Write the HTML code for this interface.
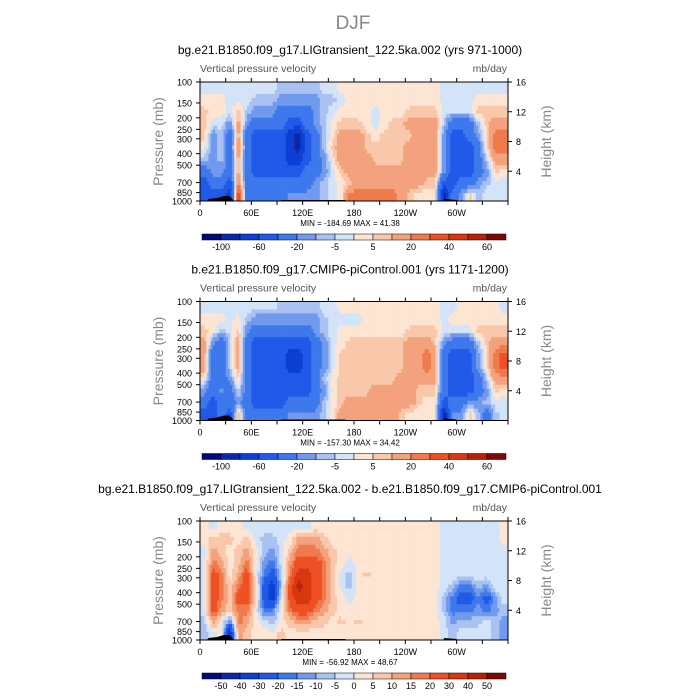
<!DOCTYPE html>
<html><head><meta charset="utf-8"><style>
body{margin:0;background:#fff;width:700px;height:700px;overflow:hidden}
svg{display:block;font-family:"Liberation Sans",sans-serif}
</style></head><body>
<svg id="s" width="700" height="700" viewBox="0 0 700 700">
<text x="353" y="29" font-size="19" fill="#888" text-anchor="middle">DJF</text>
</svg>
<script>
// ---- data ----
const lonCenters = [5,15,25,35,45,55,65,75,85,95,105,115,125,135,145,155,165,175,185,195,205,215,225,235,245,255,265,275,285,295,305,315,325,335,345,355];
const pressureTicks = [100,150,200,250,300,400,500,700,850,1000];
const heightTicks = [16,12,8,4];
const lonTickLabels = ["0","60E","120E","180","120W","60W"];
const levelsAbs = [-100,-80,-60,-40,-20,-10,-5,0,5,10,20,30,40,50,60];
const levelsAbsLabels = ["-100","-60","-20","-5","5","20","40","60"];
const levelsDiff = [-50,-40,-30,-20,-15,-10,-5,0,5,10,15,20,30,40,50];
const levelsDiffLabels = ["-50","-40","-30","-20","-15","-10","-5","0","5","10","15","20","30","40","50"];
const titles = ["bg.e21.B1850.f09_g17.LIGtransient_122.5ka.002 (yrs 971-1000)","b.e21.B1850.f09_g17.CMIP6-piControl.001 (yrs 1171-1200)","bg.e21.B1850.f09_g17.LIGtransient_122.5ka.002 - b.e21.B1850.f09_g17.CMIP6-piControl.001"];
const minMax = [["-184.69","41.38"],["-157.30","34.42"],["-56.92","48.67"]];
const lig = [
[-2,-2,-2,-2,-2,-2,-2,-2,-2,-7,-7,-7,-7,-7,-2,-2,2,2,2,2,2,2,2,2,2,2,2,2,-2,-2,-2,-2,-2,-2,-2,-2],
[2,2,2,-2,-2,-2,-7,-7,-7,-15,-15,-15,-15,-15,-7,-7,-2,2,2,2,2,2,2,2,2,2,2,2,-2,-2,-2,-2,2,2,2,2],
[7,2,2,-2,7,-7,-15,-15,-15,-30,-30,-30,-30,-15,-7,-2,2,2,2,2,-2,2,2,2,7,7,7,7,-2,-2,-2,-2,7,7,7,7],
[7,-2,-2,-15,15,-15,-30,-30,-30,-30,-50,-50,-30,-15,-7,2,7,7,7,2,-2,2,7,7,15,15,15,15,-7,-30,-30,-30,-7,7,15,15],
[7,-15,-7,-30,15,-30,-50,-50,-50,-50,-70,-90,-50,-30,-7,2,15,15,15,7,2,7,7,7,7,15,15,15,-15,-50,-50,-30,-15,7,25,25],
[2,-15,-7,-30,25,-30,-50,-50,-50,-50,-70,-90,-50,-30,-7,7,15,15,15,7,7,7,7,7,15,15,15,15,-15,-50,-50,-50,-30,7,25,25],
[-7,-15,-7,-30,15,-30,-50,-50,-50,-50,-70,-70,-50,-30,-15,2,15,15,15,15,7,7,7,7,15,15,15,15,-15,-50,-50,-50,-30,-7,15,15],
[-30,-15,-15,-30,15,-30,-50,-50,-50,-50,-50,-50,-30,-30,-15,-2,7,15,15,15,15,15,15,15,15,15,15,15,-15,-50,-50,-50,-30,-15,7,2],
[-50,-30,-30,-50,25,-30,-30,-30,-30,-30,-30,-30,-30,-15,-7,-2,2,7,15,15,15,15,15,15,15,15,7,7,-50,-50,-30,-30,-15,-7,-2,-2],
[-50,-50,-50,-70,45,-30,-30,-30,-30,-30,-15,-15,-15,-15,-7,-2,2,25,25,25,25,25,25,15,7,2,2,2,-90,-30,-15,7,-7,-2,-2,-2]];
const ctl = [
[-2,-2,-2,-2,-2,-2,-2,-2,-2,-7,-7,-7,-7,-7,-2,-2,2,2,2,2,2,2,2,2,2,2,2,2,-2,-2,2,2,2,2,2,-2],
[2,2,2,-2,2,-7,-15,-15,-15,-15,-15,-15,-15,-15,-7,-2,-2,-2,-2,2,2,2,2,2,2,2,2,2,-2,2,2,2,2,2,2,2],
[7,2,-7,-2,7,-15,-30,-30,-30,-30,-30,-30,-30,-15,-7,-2,2,2,2,2,2,2,2,2,7,7,7,7,-2,-2,-2,-2,7,7,7,7],
[15,-15,-30,-7,15,-30,-50,-50,-50,-50,-50,-50,-50,-30,-15,-2,2,7,7,7,7,7,7,7,15,15,15,7,-15,-30,-30,-30,-7,7,15,15],
[15,-30,-30,-7,15,-30,-50,-50,-50,-50,-70,-70,-50,-30,-15,-2,7,7,7,7,7,7,7,7,15,15,25,15,-30,-50,-50,-50,-15,7,25,35],
[15,-30,-30,-7,15,-30,-50,-50,-50,-50,-70,-70,-50,-30,-15,-2,7,7,7,7,7,7,7,7,15,15,25,15,-30,-50,-50,-50,-15,7,25,35],
[2,-30,-30,-15,7,-30,-50,-50,-50,-50,-50,-50,-50,-30,-7,2,7,7,7,7,7,7,7,15,15,15,15,15,-30,-50,-50,-50,-30,-7,15,15],
[-15,-30,-15,-30,-2,-30,-50,-50,-50,-50,-50,-50,-50,-30,-15,2,7,7,7,7,15,15,15,15,15,7,7,7,-30,-50,-50,-50,-30,-15,7,2],
[-30,-50,-30,-30,-15,-30,-50,-50,-50,-50,-30,-30,-30,-30,-7,2,7,15,15,15,15,15,15,15,15,7,2,2,-50,-30,-30,-15,-15,-7,-2,-2],
[-50,-50,-30,-50,15,-30,-30,-30,-30,-30,-15,-15,-15,-15,-7,2,15,15,15,15,15,15,15,7,2,2,2,2,-90,-15,-15,7,-7,-30,-7,-2]];
const diff = [
[2,-2,2,2,2,-2,-2,-2,-2,-2,-2,-2,-2,2,2,2,2,2,2,2,2,2,2,2,2,2,2,2,-2,-2,-2,-2,-2,-2,-2,2],
[2,7,7,7,2,7,-2,-7,-7,-2,2,12,12,12,7,2,2,2,2,2,2,2,2,2,2,2,2,2,-2,-2,-2,-2,-2,-2,-2,2],
[-2,12,7,2,7,12,2,-7,-12,-2,7,17,17,17,12,7,2,2,2,2,2,2,2,2,2,2,2,2,-2,-2,-2,-2,-2,-2,-2,-2],
[-2,17,12,2,7,17,2,-12,-17,-2,12,25,25,25,17,7,2,-2,2,2,2,2,2,2,2,2,2,2,-2,-2,-2,-2,-2,-2,-2,-2],
[-2,25,17,2,12,25,2,-17,-25,-7,17,35,35,25,17,7,-2,-7,2,7,2,2,2,2,2,2,2,2,-2,-2,-2,-2,-2,-2,-2,-2],
[-2,25,17,7,17,25,7,-25,-35,-7,25,45,35,25,17,7,-2,-7,2,2,2,2,2,2,2,2,2,2,-2,-7,-17,-17,-7,-12,-2,-2],
[-2,25,17,7,25,25,7,-25,-35,-2,25,35,35,25,17,7,2,-2,2,2,2,2,2,2,2,2,2,2,-7,-17,-25,-25,-17,-25,-12,-2],
[-2,25,12,7,17,17,2,-17,-17,2,17,25,25,17,12,7,2,2,2,2,2,2,2,2,2,2,2,2,-7,-17,-17,-17,-12,-17,-12,-7],
[-7,12,2,-17,17,12,2,-2,-7,2,7,12,12,7,7,2,7,2,7,2,2,2,2,2,2,2,2,2,-2,-12,-7,-7,-7,-2,-7,-12],
[-7,-2,2,-45,12,7,2,2,2,7,2,2,2,2,2,2,2,2,2,2,2,2,2,2,2,2,2,2,-2,-7,-2,-2,-2,-2,-7,-12]];
// ---- rendering ----
const colors=['#03087a','#0b28a6','#0d3fd4','#2159e8','#3d78ec','#719aee','#a9c2f1','#d3e3f8','#fde5d3','#f9c7aa','#f4a27e','#ef7a4b','#ee5024','#d8380f','#b42309','#7c0a03'];
const NS='http://www.w3.org/2000/svg';
const svg=document.getElementById('s');
const X0=200,X1=508,PH=119;
const SUBX=4,SUBY=3;
function xs(lon){return X0+(lon/360)*(X1-X0);}
function ys(p,top){return top+Math.log(p/100)/Math.log(10)*PH;}
function hs(km,top){return top+(16-km)/16*PH;}
function el(tag,attrs,parent){const e=document.createElementNS(NS,tag);for(const k in attrs)e.setAttribute(k,attrs[k]);(parent||svg).appendChild(e);return e;}
function txt(x,y,s,size,anchor,fill,parent){const t=el('text',{x:x,y:y,'font-size':size,'text-anchor':anchor||'start',fill:fill||'#000'},parent);t.textContent=s;return t;}
function cls(v,lv){let i=0;for(const b of lv){if(v>=b)i++;}return i;}
function sample(data,fr,fc){
  const nr=data.length,nc=data[0].length;
  fr=Math.max(0,Math.min(nr-1,fr));fc=Math.max(0,Math.min(nc-1,fc));
  const r0=Math.floor(fr),c0=Math.floor(fc),r1=Math.min(nr-1,r0+1),c1=Math.min(nc-1,c0+1);
  const a=fr-r0,b=fc-c0;
  return (1-a)*((1-b)*data[r0][c0]+b*data[r0][c1])+a*((1-b)*data[r1][c0]+b*data[r1][c1]);
}
const datasets=[lig,ctl,diff];
const levelSets=[levelsAbs,levelsAbs,levelsDiff];
const labelSets=[levelsAbsLabels,levelsAbsLabels,levelsDiffLabels];
const offs=[0,219.5,439];
datasets.forEach((data,pi)=>{
  const o=offs[pi],top=82+o,bot=top+PH;
  const g=el('g',{});
  
  
  const t=txt(350,54+o,titles[pi],12,'middle','#000',g);
  
  
  const st=txt(X0,72+o,'Vertical pressure velocity',10.5,'start','#555',g);
  
  
  const un=txt(X1-1,72+o,'mb/day',10.5,'end','#555',g);
  
  
  const nr=data.length,nc=data[0].length;
  const hm=el('g',{},g);
  
  
  const dy=PH/(nr*SUBY),dx=(X1-X0)/(nc*SUBX);
  for(let r=0;r<nr*SUBY;r++){
    for(let c=0;c<nc*SUBX;c++){
      const fr=(r+0.5)/SUBY-0.5, fc=(c+0.5)/SUBX-0.5;
      const v=sample(data,fr,fc);
      const rc=el('rect',{x:(X0+c*dx).toFixed(2),y:(top+r*dy).toFixed(2),width:(dx+0.4).toFixed(2),height:(dy+0.4).toFixed(2),fill:colors[cls(v,levelSets[pi])]},hm);
      
      
    }
  }
  const topo=el('path',{d:`M${xs(8)},${bot} L${xs(10)},${bot-2} L${xs(20)},${bot-3} L${xs(28)},${bot-5} L${xs(34)},${bot-5} L${xs(38)},${bot-2} L${xs(39)},${bot} Z M${xs(95)},${bot} L${xs(95)},${bot-1} L${xs(170)},${bot-1} L${xs(170)},${bot} Z M${xs(285)},${bot} L${xs(285)},${bot-2} L${xs(300)},${bot-1} L${xs(300)},${bot} Z`,fill:'#000'},g);
  
  
  const fr=el('rect',{x:X0,y:top,width:X1-X0,height:PH,fill:'none',stroke:'#000','stroke-width':1},g);
  
  
  for(let lon=0;lon<=360;lon+=30){
    const x=xs(lon);
    el('line',{x1:x,y1:bot,x2:x,y2:bot+4,stroke:'#000'},g);
    el('line',{x1:x,y1:top,x2:x,y2:top-4,stroke:'#000'},g);
  }
  lonTickLabels.forEach((s,i)=>{
    const l=txt(xs(i*60),bot+15,s,9,'middle','#000',g);
    
    
  });
  pressureTicks.forEach(p=>{
    const y=ys(p,top);
    el('line',{x1:X0,y1:y,x2:X0-4,y2:y,stroke:'#000'},g);
    const l=txt(X0-8,y+3.5,String(p),9,'end','#000',g);
    
    
  });
  heightTicks.forEach(h=>{
    const y=hs(h,top);
    el('line',{x1:X1,y1:y,x2:X1+4,y2:y,stroke:'#000'},g);
    const l=txt(X1+8,y+3.5,String(h),9,'start','#000',g);
    
    
  });
  const yt=txt(0,0,'Pressure (mb)',14,'middle','#888',g);
  yt.setAttribute('transform',`translate(163,${top+PH/2}) rotate(-90)`);
  
  
  const ht=txt(0,0,'Height (km)',14,'middle','#888',g);
  ht.setAttribute('transform',`translate(551,${top+PH/2}) rotate(-90)`);
  
  
  const mm=txt(350,bot+25,`MIN = ${minMax[pi][0]}   MAX =  ${minMax[pi][1]}`,8,'middle','#000',g);
  
  
  const cb=el('g',{},g);
  
  
  const cx0=202,cw=19,cy=234+o;
  colors.forEach((c,i)=>{
    const b=el('rect',{x:cx0+i*cw,y:cy,width:cw,height:6,fill:c,stroke:'#000','stroke-width':0.5},cb);
    
    
  });
  const labs=labelSets[pi],step=pi<2?2:1,startIdx=1;
  labs.forEach((s,i)=>{
    const l=txt(cx0+(startIdx+i*step)*cw,cy+16,s,9,'middle','#000',cb);
    
    
  });
  svg.appendChild(g);
});
</script>
</body></html>
